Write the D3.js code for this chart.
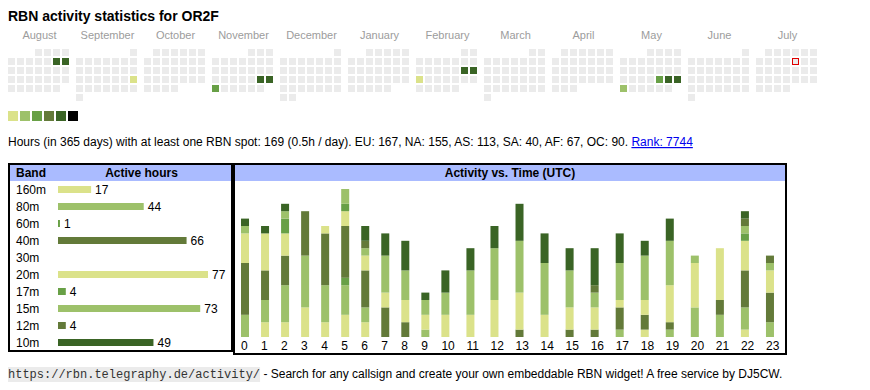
<!DOCTYPE html>
<html><head><meta charset="utf-8">
<script src="https://cdn.jsdelivr.net/npm/d3@7"></script>
<style>
html,body{margin:0;padding:0;background:#fff;}
svg{display:block;font-family:"Liberation Sans",Arial,sans-serif;}
</style></head><body>
<svg id="c" width="870" height="390"></svg>
<script>
// ---------- data ----------
const callsign = "OR2F";
const monthNames = ["August","September","October","November","December","January","February","March","April","May","June","July"];
const calendarStart = "2024-08-01";
const calendarEnd = "2025-08-01";
const activeDays = ["2024-08-10","2024-08-11","2024-09-22","2024-11-23","2024-11-24","2024-11-25",
                    "2025-02-15","2025-02-16","2025-02-17","2025-05-23","2025-05-24","2025-05-25","2025-05-26"];
const activeLevels = [4,4,0,4,4,2,4,4,0,2,4,4,1];
const today = "2025-07-11";
const levelColors = ["#dbe28a","#9dc16a","#68a046","#637a39","#3a6425","#000000"];

const totalHours = 169;
const hoursPerDay = "0.5h";
const continents = ["EU","NA","AS","SA","AF","OC"];
const continentHours = [167,155,113,40,67,90];
const rank = 7744;

const bands = ["160m","80m","60m","40m","30m","20m","17m","15m","12m","10m"];
const bandHours = [17,44,1,66,0,77,4,73,4,49];
const bandColorIdx = [0,1,2,3,4,0,2,1,3,4];

const hourLabels = ["0","1","2","3","4","5","6","7","8","9","10","11","12","13","14","15","16","17","18","19","20","21","22","23"];
const h160m = [0,2,2,4,2,3,2,0,0,0,0,0,0,0,0,0,0,0,1,0,0,0,1,0];
const h80m  = [3,3,5,7,5,4,2,0,0,1,0,0,0,0,0,0,0,1,0,1,4,3,3,2];
const h60m  = [0,0,0,0,0,1,0,0,0,0,0,0,0,0,0,0,0,0,0,0,0,0,0,0];
const h40m  = [7,4,4,6,7,7,5,4,2,0,0,0,0,1,0,1,1,3,2,1,0,2,5,4];
const h30m  = [0,0,0,0,0,0,0,0,0,0,0,0,0,0,0,0,0,0,0,0,0,0,0,0];
const h20m  = [4,5,3,0,1,2,2,2,3,2,3,3,5,5,3,3,3,1,2,5,6,7,4,3];
const h17m  = [0,0,2,0,0,1,0,0,0,0,0,0,0,0,0,0,0,0,0,0,0,0,1,0];
const h15m  = [1,0,1,0,0,2,1,5,4,2,3,6,7,7,7,5,2,5,6,6,1,0,1,1];
const h12m  = [0,0,0,0,0,0,1,0,0,0,0,0,0,0,0,0,1,0,0,0,0,0,1,1];
const h10m  = [1,1,1,0,0,0,2,3,4,1,3,3,3,5,4,3,5,4,2,3,0,0,1,0];
const hourlySeries = [h160m,h80m,h60m,h40m,h30m,h20m,h17m,h15m,h12m,h10m];

// ---------- drawing ----------
const svg = d3.select("#c");
const font = '"Liberation Sans",Arial,sans-serif';

// title
svg.append("text").attr("x",8).attr("y",21).attr("font-size",14).attr("font-weight","bold")
   .attr("fill","#000").text("RBN activity statistics for " + callsign);

// calendar
const parse = d3.utcParse("%Y-%m-%d");
const months = d3.utcMonths(parse(calendarStart), parse(calendarEnd));
const monthX = d3.scaleBand().domain(d3.range(12)).range([8, 817]).paddingInner(7/68);
const colX = d3.scaleBand().domain(d3.range(7)).range([0, 61]).paddingInner(2/9);
const rowY = d3.scaleBand().domain(d3.range(6)).range([49, 101]).paddingInner(2/9);
const levelByDay = new Map(activeDays.map((d,i)=>[d, activeLevels[i]]));
const fmt = d3.utcFormat("%Y-%m-%d");

svg.append("g").selectAll("text").data(monthNames).join("text")
  .attr("x",(d,i)=>monthX(i)+monthX.bandwidth()/2+1).attr("y",39)
  .attr("text-anchor","middle").attr("font-size",11).attr("fill","#9c9c9c").text(d=>d);

const cells = [];
months.forEach((m,mi)=>{
  const first = (m.getUTCDay()+6)%7;
  d3.utcDays(m, d3.utcMonth.offset(m,1)).forEach(day=>{
    const dom = day.getUTCDate();
    cells.push({key:fmt(day), m:mi, col:(day.getUTCDay()+6)%7, row:Math.floor((dom-1+first)/7)});
  });
});
svg.append("g").selectAll("rect").data(cells).join("rect")
  .attr("x",d=>monthX(d.m)+colX(d.col) + (d.key===today?0.5:0))
  .attr("y",d=>rowY(d.row) + (d.key===today?0.5:0))
  .attr("width",d=>d.key===today?colX.bandwidth()-1:colX.bandwidth())
  .attr("height",d=>d.key===today?rowY.bandwidth()-1:rowY.bandwidth())
  .attr("fill",d=>levelByDay.has(d.key)?levelColors[levelByDay.get(d.key)]:"#ebebeb")
  .attr("stroke",d=>d.key===today?"#e00000":null)
  .attr("stroke-width",1);

// legend
const legX = d3.scaleBand().domain(d3.range(6)).range([8,78]).paddingInner(2/12);
svg.append("g").selectAll("rect").data(levelColors).join("rect")
  .attr("x",(d,i)=>legX(i)).attr("y",111).attr("width",legX.bandwidth()).attr("height",10)
  .attr("fill",d=>d);

// description line
const desc = svg.append("text").attr("x",8).attr("y",146).attr("font-size",12).attr("fill","#000");
desc.append("tspan").text(`Hours (in 365 days) with at least one RBN spot: ${totalHours} (${hoursPerDay} / day). ` +
  continents.map((c,i)=>`${c}: ${continentHours[i]}`).join(", ") + ". ");
desc.append("tspan").attr("fill","#0000ee").attr("text-decoration","underline").text(`Rank: ${rank}`);

// ----- left table -----
svg.append("rect").attr("x",10).attr("y",165).attr("width",221).attr("height",16).attr("fill","#aabbff");
svg.append("rect").attr("x",9).attr("y",164).attr("width",223).attr("height",187)
   .attr("fill","none").attr("stroke","#000").attr("stroke-width",2);
svg.append("text").attr("x",16).attr("y",177).attr("font-size",12).attr("font-weight","bold").text("Band");
svg.append("text").attr("x",141.5).attr("y",177).attr("font-size",12).attr("font-weight","bold")
   .attr("text-anchor","middle").text("Active hours");

const rowBand = d3.scaleBand().domain(bands).range([181,351]);
const bandW = d3.scaleLinear().domain([0, d3.max(bandHours)]).range([0,150]);
const rows = svg.append("g").selectAll("g").data(bands).join("g")
  .attr("transform",d=>`translate(0,${rowBand(d)+rowBand.bandwidth()/2})`);
rows.append("text").attr("x",16).attr("y",4).attr("font-size",12).text(d=>d);
rows.filter((d,i)=>bandHours[i]>0).append("rect")
  .attr("x",58).attr("y",-3.5).attr("height",7)
  .attr("width",d=>bandW(bandHours[bands.indexOf(d)]))
  .attr("fill",d=>levelColors[bandColorIdx[bands.indexOf(d)]]);
rows.filter((d,i)=>bandHours[i]>0).append("text")
  .attr("x",d=>58+bandW(bandHours[bands.indexOf(d)])+4).attr("y",4).attr("font-size",12)
  .text(d=>bandHours[bands.indexOf(d)]);

// ----- right chart -----
svg.append("rect").attr("x",235).attr("y",165).attr("width",550).attr("height",16).attr("fill","#aabbff");
svg.append("rect").attr("x",234).attr("y",164).attr("width",552).attr("height",190)
   .attr("fill","none").attr("stroke","#000").attr("stroke-width",2);
svg.append("text").attr("x",510).attr("y",177).attr("font-size",12).attr("font-weight","bold")
   .attr("text-anchor","middle").text("Activity vs. Time (UTC)");

// column widths like an auto table layout: content = max(bar, label) + padding
const barW = 8, cellPad = 12;
const tmp = svg.append("text").attr("font-size",12);
const labW = hourLabels.map(l=>{ tmp.text(l); return Math.round(tmp.node().getComputedTextLength()); });
tmp.remove();
const colW = labW.map(w=>Math.max(barW,w)+cellPad);
const cum = [0]; colW.forEach((w,i)=>cum.push(cum[i]+w));
const xCol = d3.scaleLinear().domain([0, cum[cum.length-1]]).range([235,785]);
const barLeft = hourLabels.map((l,i)=>xCol(cum[i]+cellPad/2));

const y = d3.scaleLinear().domain([0,20]).range([337,189]);
const table = hourLabels.map((l,i)=>{ const o={hour:i}; bands.forEach((b,bi)=>o[b]=hourlySeries[bi][i]); return o; });
const stacked = d3.stack().keys(bands)(table);
svg.append("g").selectAll("g").data(stacked).join("g")
  .attr("fill",(s,si)=>levelColors[bandColorIdx[si]])
  .selectAll("rect").data(s=>s.filter(d=>d[1]>d[0])).join("rect")
  .attr("x",d=>barLeft[d.data.hour]).attr("width",barW)
  .attr("y",d=>y(d[1])).attr("height",d=>y(d[0])-y(d[1]));

svg.append("g").selectAll("text").data(hourLabels).join("text")
  .attr("x",(d,i)=>barLeft[i]).attr("y",350).attr("font-size",12).text(d=>d);

// ----- footer -----
const url = "https://rbn.telegraphy.de/activity/";
const mono = svg.append("text").attr("x",8).attr("y",378).attr("font-size",12)
  .attr("font-family",'"Liberation Mono","DejaVu Sans Mono",monospace').attr("fill","#333").text(url);
const mw = mono.node().getComputedTextLength();
svg.insert("rect","text").attr("x",8).attr("y",367).attr("width",mw).attr("height",15).attr("fill","#ebebeb");
svg.append("text").attr("x",8+mw).attr("y",378).attr("font-size",12).attr("fill","#000")
  .attr("xml:space","preserve").style("white-space","pre")
  .text(" - Search for any callsign and create your own embeddable RBN widget! A free service by DJ5CW.");
</script>
</body></html>
